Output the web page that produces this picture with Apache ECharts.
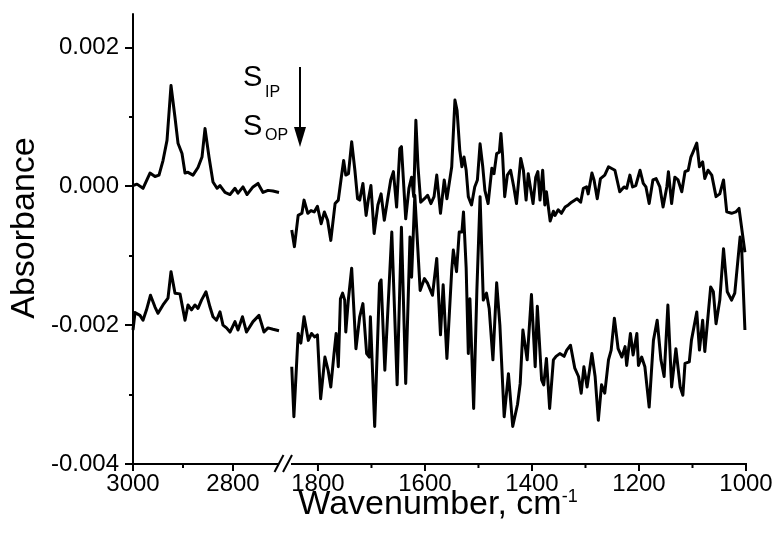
<!DOCTYPE html>
<html>
<head>
<meta charset="utf-8">
<script src="https://cdn.jsdelivr.net/npm/echarts@6/dist/echarts.min.js"></script>
<style>
  html, body { margin: 0; padding: 0; background: #fff; }
  #chart { width: 778px; height: 534px; }
</style>
</head>
<body>
<div id="chart"></div>
<script>
// C-H stretching region (3000-2705 cm-1)
const chIPWn = [3000, 2992, 2980, 2966, 2956, 2948, 2940, 2932, 2924, 2916, 2910, 2902, 2896, 2890, 2880, 2870, 2862, 2856, 2848, 2840, 2832, 2826, 2816, 2806, 2796, 2790, 2780, 2772, 2760, 2750, 2740, 2730, 2720, 2708];
const chIPAbs = [0.00001, 0.00003, -0.00003, 0.00019, 0.00014, 0.00016, 0.00037, 0.00066, 0.00145, 0.00099, 0.00062, 0.00047, 0.00019, 0.00020, 0.00016, 0.00027, 0.00042, 0.00083, 0.00042, 0.00006, -0.00003, 0.00001, -0.00009, -0.00012, -0.00003, -0.00010, -0.00001, -0.00012, -0.00001, 0.00004, -0.00009, -0.00006, -0.00007, -0.00009];

const chOPWn = [3000, 2996, 2986, 2980, 2973, 2965, 2956, 2950, 2940, 2930, 2924, 2916, 2906, 2896, 2890, 2883, 2876, 2870, 2863, 2854, 2846, 2840, 2833, 2826, 2820, 2813, 2806, 2796, 2790, 2781, 2773, 2760, 2748, 2738, 2730, 2720, 2708];
const chOPAbs = [-0.00207, -0.00182, -0.00186, -0.00193, -0.00178, -0.00157, -0.00174, -0.00183, -0.00171, -0.00161, -0.00123, -0.00154, -0.00155, -0.00193, -0.00171, -0.00178, -0.00171, -0.00176, -0.00164, -0.00152, -0.00174, -0.00188, -0.00193, -0.00181, -0.00200, -0.00204, -0.00210, -0.00195, -0.00207, -0.00188, -0.00210, -0.00195, -0.00186, -0.00210, -0.00204, -0.00206, -0.00208];

// Fingerprint region (1856-1000 cm-1)
const fpIPWn = [1849, 1844, 1837, 1830, 1826, 1819, 1813, 1807, 1801, 1794, 1788, 1782, 1776, 1768, 1762, 1757, 1752, 1748, 1743, 1737, 1731, 1726, 1722, 1716, 1710, 1706, 1701, 1695, 1688, 1682, 1676, 1670, 1664, 1659, 1653, 1647, 1644, 1636, 1630, 1625, 1621, 1617, 1613, 1608, 1601, 1595, 1589, 1583, 1578, 1571, 1564, 1559, 1550, 1544, 1540, 1535, 1531, 1527, 1523, 1519, 1513, 1507, 1502, 1497, 1492, 1488, 1482, 1475, 1471, 1466, 1461, 1458, 1455, 1451, 1446, 1440, 1434, 1429, 1421, 1416, 1411, 1407, 1402, 1398, 1393, 1389, 1385, 1380, 1376, 1373, 1366, 1360, 1357, 1351, 1345, 1338, 1332, 1326, 1316, 1309, 1304, 1298, 1295, 1288, 1284, 1278, 1272, 1264, 1257, 1245, 1236, 1228, 1223, 1217, 1212, 1206, 1198, 1192, 1187, 1181, 1174, 1168, 1161, 1155, 1148, 1145, 1139, 1133, 1127, 1120, 1114, 1108, 1103, 1099, 1092, 1087, 1081, 1077, 1071, 1064, 1056, 1049, 1042, 1036, 1027, 1019, 1013, 1002];
const fpIPAbs = [-0.00063, -0.00087, -0.00042, -0.00039, -0.00020, -0.00039, -0.00035, -0.00037, -0.00029, -0.00054, -0.00037, -0.00049, -0.00078, -0.00025, -0.00020, 0.00009, 0.00037, 0.00016, 0.00018, 0.00064, 0.00023, -0.00018, -0.00020, 0.00004, -0.00042, -0.00020, 0.00001, -0.00068, -0.00027, -0.00011, -0.00049, -0.00020, 0.00009, 0.00021, -0.00030, 0.00054, 0.00057, -0.00047, -0.00003, 0.00013, -0.00015, 0.00095, 0.00028, -0.00023, -0.00018, -0.00013, -0.00025, -0.00015, 0.00016, -0.00039, 0.00009, -0.00018, 0.00028, 0.00124, 0.00109, 0.00052, 0.00028, 0.00042, 0.00023, -0.00015, -0.00027, -0.00001, 0.00009, 0.00061, 0.00028, -0.00006, -0.00025, 0.00026, 0.00018, 0.00047, 0.00049, 0.00076, 0.00045, -0.00015, 0.00016, 0.00023, -0.00001, -0.00025, 0.00040, 0.00023, -0.00020, 0.00018, -0.00006, -0.00025, 0.00013, 0.00021, -0.00020, 0.00023, -0.00027, -0.00008, -0.00050, -0.00036, -0.00042, -0.00034, -0.00039, -0.00030, -0.00027, -0.00023, -0.00018, -0.00023, -0.00003, -0.00001, -0.00011, 0.00019, 0.00009, -0.00018, 0.00011, 0.00016, 0.00028, 0.00023, -0.00008, -0.00001, -0.00003, 0.00016, -0.00001, 0.00001, 0.00023, 0.00004, -0.00001, -0.00025, 0.00009, 0.00011, -0.00001, -0.00030, -0.00001, 0.00021, -0.00025, 0.00013, 0.00009, -0.00008, 0.00021, 0.00023, 0.00042, 0.00049, 0.00062, 0.00028, 0.00035, 0.00011, 0.00023, 0.00016, -0.00015, -0.00011, 0.00009, -0.00037, -0.00039, -0.00037, -0.00032, -0.00095];

const fpOPWn = [1849, 1845, 1837, 1832, 1826, 1818, 1812, 1806, 1801, 1795, 1787, 1781, 1776, 1770, 1766, 1762, 1758, 1754, 1750, 1748, 1743, 1737, 1729, 1722, 1716, 1709, 1704, 1702, 1694, 1685, 1682, 1675, 1662, 1652, 1644, 1636, 1628, 1625, 1619, 1609, 1601, 1595, 1586, 1578, 1571, 1566, 1559, 1550, 1547, 1541, 1536, 1531, 1528, 1523, 1519, 1516, 1509, 1503, 1497, 1491, 1485, 1480, 1473, 1466, 1460, 1452, 1444, 1436, 1427, 1422, 1417, 1409, 1401, 1394, 1390, 1382, 1378, 1373, 1367, 1360, 1355, 1348, 1340, 1335, 1328, 1320, 1313, 1308, 1303, 1297, 1288, 1282, 1276, 1270, 1264, 1257, 1252, 1246, 1239, 1232, 1226, 1223, 1216, 1211, 1204, 1201, 1195, 1189, 1181, 1173, 1166, 1159, 1153, 1146, 1139, 1131, 1123, 1118, 1114, 1106, 1102, 1092, 1087, 1081, 1077, 1066, 1061, 1056, 1049, 1042, 1035, 1027, 1021, 1011, 1008, 1002];
const fpOPAbs = [-0.00260, -0.00332, -0.00212, -0.00226, -0.00188, -0.00222, -0.00212, -0.00217, -0.00214, -0.00306, -0.00246, -0.00265, -0.00289, -0.00241, -0.00212, -0.00260, -0.00162, -0.00154, -0.00164, -0.00210, -0.00162, -0.00118, -0.00234, -0.00188, -0.00169, -0.00241, -0.00246, -0.00188, -0.00346, -0.00140, -0.00135, -0.00265, -0.00066, -0.00286, -0.00059, -0.00284, -0.00073, -0.00131, -0.00013, -0.00150, -0.00133, -0.00140, -0.00157, -0.00104, -0.00214, -0.00142, -0.00248, -0.00121, -0.00092, -0.00123, -0.00066, -0.00066, -0.00037, -0.00118, -0.00241, -0.00162, -0.00320, -0.00150, -0.00015, -0.00164, -0.00154, -0.00176, -0.00250, -0.00139, -0.00200, -0.00332, -0.00270, -0.00346, -0.00314, -0.00284, -0.00207, -0.00250, -0.00156, -0.00260, -0.00173, -0.00279, -0.00286, -0.00248, -0.00320, -0.00250, -0.00245, -0.00241, -0.00245, -0.00236, -0.00229, -0.00262, -0.00274, -0.00298, -0.00260, -0.00289, -0.00241, -0.00274, -0.00337, -0.00286, -0.00298, -0.00250, -0.00236, -0.00190, -0.00234, -0.00246, -0.00231, -0.00258, -0.00212, -0.00243, -0.00212, -0.00258, -0.00246, -0.00260, -0.00318, -0.00222, -0.00193, -0.00250, -0.00274, -0.00171, -0.00289, -0.00234, -0.00289, -0.00301, -0.00255, -0.00253, -0.00222, -0.00181, -0.00236, -0.00193, -0.00238, -0.00145, -0.00152, -0.00198, -0.00164, -0.00090, -0.00152, -0.00164, -0.00154, -0.00073, -0.00092, -0.00207];

// Axis ticks
const yTicks = [-0.004, -0.002, 0, 0.002];
const yMinorTicks = [-0.003, -0.001, 0.001];
const chTicks = [3000, 2800];
const chMinorTicks = [2900];
const fpTicks = [1800, 1600, 1400, 1200, 1000];
const fpMinorTicks = [1700, 1500, 1300, 1100];

const FONT = '"Liberation Sans", Arial, sans-serif';
const INK = '#000';
const Y_MIN = -0.004, Y_MAX = 0.00248;
const CH_RANGE = [2705, 3000];
const FP_RANGE = [1000, 1856];

const pairs = (xs, ys) => xs.map((x, i) => [x, ys[i]]);

// Panels: 0 = C-H region, 1 = fingerprint region, 2 = overlay of panel 0 for minor y ticks
const chRect = { left: 133, top: 14, width: 147.5, height: 450 };
const fpRect = { left: 288, top: 14, width: 458, height: 450 };

function xAxisFor(grid, range, ticks) {
  return {
    type: 'value', gridIndex: grid, position: 'bottom', inverse: true, min: range[0], max: range[1],
    axisLine: { show: false, onZero: false },
    axisTick: { show: false },
    axisLabel: ticks
      ? { show: true, customValues: ticks, margin: 8, color: INK, fontSize: 24, fontFamily: FONT, formatter: v => String(v) }
      : { show: false },
    splitLine: { show: false }
  };
}
function yAxisFor(grid, mode) {
  const base = { type: 'value', gridIndex: grid, position: 'left', min: Y_MIN, max: Y_MAX, splitLine: { show: false } };
  if (mode === 'major') {
    return Object.assign(base, {
      axisLine: { show: true, onZero: false, lineStyle: { color: INK, width: 2 } },
      axisTick: { show: true, inside: false, length: 8, customValues: yTicks, lineStyle: { color: INK, width: 2 } },
      axisLabel: { show: true, customValues: yTicks, margin: 14, color: INK, fontSize: 24, fontFamily: FONT,
        formatter: v => v.toFixed(3) }
    });
  }
  if (mode === 'minor') {
    return Object.assign(base, {
      axisLine: { show: false, onZero: false },
      axisTick: { show: true, inside: false, length: 4, customValues: yMinorTicks, lineStyle: { color: INK, width: 2 } },
      axisLabel: { show: false }
    });
  }
  return Object.assign(base, { axisLine: { show: false, onZero: false }, axisTick: { show: false }, axisLabel: { show: false } });
}
function spectrum(xi, yi, data) {
  return {
    type: 'line', xAxisIndex: xi, yAxisIndex: yi, data,
    showSymbol: false, symbol: 'none', smooth: false,
    lineStyle: { color: INK, width: 3, join: 'round' },
    animation: false
  };
}

// Broken wavenumber axis: both panels share one baseline; positions follow the panel
// rectangles and their (reversed) wavenumber ranges
const yBase = chRect.top + chRect.height;
const chPx = v => chRect.left + (CH_RANGE[1] - v) / (CH_RANGE[1] - CH_RANGE[0]) * chRect.width;
const fpPx = v => fpRect.left + (FP_RANGE[1] - v) / (FP_RANGE[1] - FP_RANGE[0]) * fpRect.width;
const LAYER = { zlevel: 1, z: 100 };
const box = (x1, y1, x2, y2) => Object.assign({
  type: 'polygon', shape: { points: [[x1, y1], [x2, y1], [x2, y2], [x1, y2]] }, style: { fill: INK }
}, LAYER);
const slash = (x1, y1, x2, y2) => Object.assign({
  type: 'line', shape: { x1, y1, x2, y2 }, style: { stroke: INK, lineWidth: 2 }
}, LAYER);

const chStart = chPx(CH_RANGE[1]);
const chEnd = chPx(CH_RANGE[0]);
const fpStart = fpPx(FP_RANGE[1]);
const fpEnd = fpPx(FP_RANGE[0]);
const axisParts = [
  box(chStart - 1, yBase - 1, chEnd - 2, yBase + 1),
  box(fpStart + 3, yBase - 1, fpEnd + 1, yBase + 1),
  slash(chEnd - 6, yBase + 8, chEnd + 3, yBase - 9),
  slash(fpStart - 5, yBase + 8, fpStart + 4, yBase - 9)
];
const tick = (x, len) => box(x - 1, yBase, x + 1, yBase + len);
chTicks.forEach(v => axisParts.push(tick(chPx(v), 7)));
chMinorTicks.forEach(v => axisParts.push(tick(chPx(v), 4)));
fpTicks.forEach(v => axisParts.push(tick(fpPx(v), 7)));
fpMinorTicks.forEach(v => axisParts.push(tick(fpPx(v), 4)));

const chart = echarts.init(document.getElementById('chart'), null, { renderer: 'canvas' });
chart.setOption({
  backgroundColor: '#fff',
  animation: false,
  grid: [chRect, fpRect, chRect].map(r => Object.assign({ outerBoundsMode: 'none', containLabel: false }, r)),
  xAxis: [
    xAxisFor(0, CH_RANGE, chTicks),
    xAxisFor(1, FP_RANGE, fpTicks),
    xAxisFor(2, CH_RANGE, null)
  ],
  yAxis: [yAxisFor(0, 'major'), yAxisFor(1, 'hidden'), yAxisFor(2, 'minor')],
  series: [
    spectrum(0, 0, pairs(chIPWn, chIPAbs)),
    spectrum(0, 0, pairs(chOPWn, chOPAbs)),
    spectrum(1, 1, pairs(fpIPWn, fpIPAbs)),
    spectrum(1, 1, pairs(fpOPWn, fpOPAbs))
  ],
  graphic: axisParts.concat([
    // axis titles
    {
      type: 'text', x: 25, y: 228, rotation: Math.PI / 2,
      style: { text: 'Absorbance', fill: INK, font: '34px ' + FONT, align: 'center', verticalAlign: 'middle' }
    },
    {
      type: 'text', x: 438, y: 505,
      style: {
        text: '{t|Wavenumber, cm}{s|-1}', align: 'center', verticalAlign: 'middle',
        rich: {
          t: { fontSize: 34, fontFamily: FONT, fill: INK },
          s: { fontSize: 18, fontFamily: FONT, fill: INK, verticalAlign: 'top' }
        }
      }
    },
    // series labels with arrow
    { type: 'text', x: 243, y: 78, style: { text: 'S', fill: INK, font: '29px ' + FONT, align: 'left', verticalAlign: 'middle' } },
    { type: 'text', x: 265, y: 93, style: { text: 'IP', fill: INK, font: '16px ' + FONT, align: 'left', verticalAlign: 'middle' } },
    { type: 'text', x: 243, y: 127, style: { text: 'S', fill: INK, font: '29px ' + FONT, align: 'left', verticalAlign: 'middle' } },
    { type: 'text', x: 265, y: 136, style: { text: 'OP', fill: INK, font: '16px ' + FONT, align: 'left', verticalAlign: 'middle' } },
    { type: 'line', shape: { x1: 300, y1: 67, x2: 300, y2: 130 }, style: { stroke: INK, lineWidth: 2 } },
    { type: 'polygon', shape: { points: [[294, 127], [306, 127], [300, 147]] }, style: { fill: INK } }
  ])
});
</script>
</body>
</html>
